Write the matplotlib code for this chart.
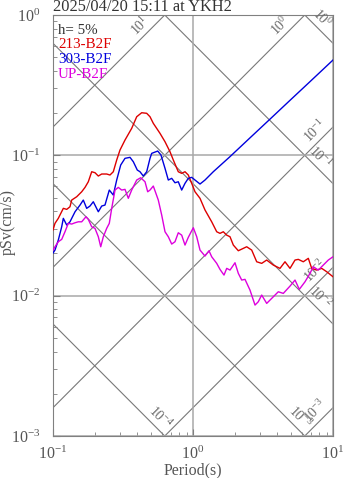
import numpy as np
import matplotlib.pyplot as plt

plt.rcParams['font.family'] = ['Liberation Serif', 'DejaVu Serif']
plt.rcParams['mathtext.fontset'] = 'custom'
plt.rcParams['mathtext.rm'] = 'Liberation Serif'
plt.rcParams['mathtext.it'] = 'Liberation Serif:italic'
plt.rcParams['mathtext.bf'] = 'Liberation Serif:bold'

title = '2025/04/20 15:11 at YKH2'
damping = 'h= 5%'
names = ['213-B2F', '303-B2F', 'UP-B2F']
colors = ['#dd0000', '#0000dd', '#dd00dd']

# period (s) and pSv (cm/s)
per_213 = [0.100, 0.1033, 0.1091, 0.1185, 0.1253, 0.1322, 0.1360, 0.1477, 0.1603, 0.1693,
           0.1787, 0.1890, 0.1995, 0.2107, 0.2228, 0.2418, 0.2553, 0.2696, 0.2851, 0.3010,
           0.3268, 0.3648, 0.3962, 0.4301, 0.4669, 0.4931, 0.5205, 0.5810, 0.6310, 0.6850,
           0.7234, 0.7852, 0.8303, 0.8768, 0.9256, 0.9788, 1.0335, 1.122, 1.218, 1.360,
           1.477, 1.559, 1.646, 1.741, 1.838, 1.941, 2.107, 2.288, 2.418, 2.626,
           2.851, 3.095, 3.360, 3.747, 4.182, 4.541, 4.931, 5.354, 5.651, 6.136,
           6.664, 7.045, 7.648, 8.305, 9.016, 10.0]
sv_213 = [0.0294, 0.03275, 0.03556, 0.0419, 0.0412, 0.0430, 0.0480, 0.0507, 0.0550, 0.0591,
          0.0648, 0.0764, 0.0752, 0.0712, 0.0736, 0.0736, 0.0724, 0.0764, 0.0926, 0.1091,
          0.1285, 0.1557, 0.1884, 0.2012, 0.1993, 0.1884, 0.1691, 0.1435, 0.1250, 0.1061,
          0.0926, 0.0764, 0.0744, 0.0764, 0.0724, 0.0632, 0.0550, 0.0494, 0.0408, 0.0336,
          0.02854, 0.0278, 0.02854, 0.0270, 0.0263, 0.02294, 0.0209, 0.02173, 0.02231, 0.02113,
          0.01744, 0.01699, 0.01794, 0.01652, 0.01565, 0.01744, 0.01565, 0.01794, 0.01814, 0.01744,
          0.01845, 0.01565, 0.01522, 0.01565, 0.01481, 0.01364]

per_303 = [0.100, 0.1033, 0.1091, 0.1154, 0.1185, 0.1253, 0.1322, 0.1437, 0.1559, 0.1646,
           0.1740, 0.1837, 0.1940, 0.2107, 0.2228, 0.2351, 0.2524, 0.2696, 0.2851, 0.3045,
           0.3268, 0.3548, 0.3747, 0.4000, 0.4182, 0.4416, 0.4669, 0.4931, 0.5070, 0.5597,
           0.5907, 0.6310, 0.6662, 0.7045, 0.7436, 0.7852, 0.8303, 0.8768, 0.9256, 0.9788,
           1.0335, 1.122, 1.218, 1.396, 1.838, 2.553, 3.548, 4.931, 6.851, 10.0]
sv_303 = [0.02012, 0.02113, 0.02489, 0.03098, 0.03556, 0.03186, 0.0336, 0.03963, 0.04422, 0.0480,
          0.0419, 0.04351, 0.0467, 0.03963, 0.04351, 0.04422, 0.05657, 0.05212, 0.06668, 0.0853,
          0.09519, 0.09676, 0.09003, 0.07855, 0.0764, 0.0712, 0.0764, 0.09519, 0.1033, 0.1073,
          0.1005, 0.08078, 0.06668, 0.06856, 0.06377, 0.06482, 0.05657, 0.06318, 0.06856, 0.06969,
          0.06668, 0.06245, 0.06668, 0.0764, 0.0979, 0.1332, 0.1811, 0.2466, 0.3351, 0.4777]

per_up = [0.100, 0.1033, 0.1091, 0.1154, 0.1218, 0.1286, 0.1360, 0.1437, 0.1516, 0.1603,
          0.1720, 0.1787, 0.1890, 0.1995, 0.2107, 0.2192, 0.2288, 0.2418, 0.2524, 0.2626,
          0.2773, 0.2927, 0.3095, 0.3268, 0.3451, 0.3648, 0.3962, 0.4230, 0.4542, 0.4747,
          0.4931, 0.5205, 0.5651, 0.5976, 0.6310, 0.6662, 0.7045, 0.7436, 0.7852, 0.8303,
          0.8768, 0.9256, 1.005, 1.063, 1.122, 1.218, 1.301, 1.360, 1.477, 1.559,
          1.665, 1.741, 1.838, 1.909, 1.995, 2.107, 2.228, 2.352, 2.553, 2.773,
          2.927, 3.095, 3.360, 3.747, 4.067, 4.416, 4.931, 5.354, 5.745, 6.310,
          6.851, 7.232, 7.852, 8.524, 9.256, 10.0]
sv_up = [0.02113, 0.02231, 0.02422, 0.02519, 0.02854, 0.03275, 0.03238, 0.03308, 0.0336, 0.0336,
         0.0365, 0.03498, 0.03098, 0.03017, 0.0263, 0.02231, 0.0263, 0.03017, 0.03275, 0.0419,
         0.05657, 0.0591, 0.05657, 0.05722, 0.0494, 0.05657, 0.06668, 0.06923, 0.06482, 0.0550,
         0.05657, 0.06042, 0.0480, 0.03753, 0.02854, 0.0263, 0.02332, 0.02422, 0.02807, 0.0270,
         0.02294, 0.02604, 0.03048, 0.0263, 0.02113, 0.01915, 0.0209, 0.01893, 0.01699, 0.01539,
         0.01402, 0.01565, 0.01522, 0.01607, 0.01716, 0.01442, 0.01292, 0.01307, 0.01096, 0.00857,
         0.00905, 0.0101, 0.00881, 0.00982, 0.01066, 0.01038, 0.0117, 0.01292, 0.01109, 0.01256,
         0.01442, 0.01607, 0.01522, 0.01652, 0.01794, 0.01893]

acc_levels = [1e1, 1e0, 1e-1, 1e-2, 1e-3]       # cm/s^2
acc_labels = ['$10^{1}$', '$10^{0}$', '$10^{-1}$', '$10^{-2}$', '$10^{-3}$']
disp_levels = [1e0, 1e-1, 1e-2, 1e-3, 1e-4]     # cm
disp_labels = ['$10^{0}$', '$10^{-1}$', '$10^{-2}$', '$10^{-3}$', '$10^{-4}$']

t_min, t_max = 0.1, 10.0
v_min, v_max = 1e-3, 1.0

fig = plt.figure(figsize=(3.47, 4.78), dpi=100)
ax = fig.add_axes([53 / 347, 1 - 436 / 478, 280 / 347, 421 / 478])
ax.set_xscale('log')
ax.set_yscale('log')
ax.set_xlim(t_min, t_max)
ax.set_ylim(v_min, v_max)

# tripartite guide lines
tt = np.logspace(-2, 2, 50)
line_col = '#787878'
lab_col = '#6a6a6a'
p = 5.0
for a, lab in zip(acc_levels, acc_labels):
    ax.plot(tt, a * tt / (2 * np.pi), color=line_col, lw=0.8, zorder=1)
    t_end = min(t_max, 2 * np.pi * v_max / a)
    v_end = a * t_end / (2 * np.pi)
    b = 2.0 if t_end >= t_max else 15.0
    ax.annotate(lab, (t_end, v_end), xytext=(-(b + p) / np.sqrt(2), (p - b) / np.sqrt(2)),
                textcoords='offset pixels', rotation=45, rotation_mode='anchor',
                ha='right', va='baseline', fontsize=10, color=lab_col, annotation_clip=False)
for d, lab in zip(disp_levels, disp_labels):
    ax.plot(tt, 2 * np.pi * d / tt, color=line_col, lw=0.8, zorder=1)
    t_end = min(t_max, 2 * np.pi * d / v_min)
    v_end = 2 * np.pi * d / t_end
    b = 15.0 if t_end >= t_max else 3.0
    ax.annotate(lab, (t_end, v_end), xytext=((p - b) / np.sqrt(2), (b + p) / np.sqrt(2)),
                textcoords='offset pixels', rotation=-45, rotation_mode='anchor',
                ha='right', va='baseline', fontsize=10, color=lab_col, annotation_clip=False)

ax.grid(which='major', color='#a8a8a8', lw=1.1, zorder=0)

for per, sv, c in zip([per_213, per_303, per_up], [sv_213, sv_303, sv_up], colors):
    ax.plot(per, sv, color=c, lw=1.0, zorder=3)

# legend block
ax.text(0.018, 0.962, damping, transform=ax.transAxes, fontsize=10.8, color='#333333', va='center')
for i, (n, c) in enumerate(zip(names, colors)):
    ax.text(0.018, 0.929 - 0.035 * i, n, transform=ax.transAxes, fontsize=10.8, color=c, va='center')

for s in ax.spines.values():
    s.set_color('#808080')
ax.tick_params(which='both', direction='in', colors='#808080', labelcolor='#555555', labelsize=11.5)
ax.tick_params(which='major', length=5)
ax.tick_params(which='minor', length=3)
ax.tick_params(axis='y', pad=9)
ax.tick_params(axis='x', pad=7)

fig.text(53 / 347, 1 - 11 / 478, title, fontsize=11.8, color='#333333', va='baseline', ha='left')
fig.text(8 / 347, 1 - 222 / 478, 'pSv(cm/s)', rotation=90, fontsize=11.5, color='#555555',
         ha='center', va='center')
fig.text(193 / 347, 1 - 470 / 478, 'Period(s)', fontsize=11.5, color='#555555',
         ha='center', va='center')

fig.savefig('out.png', dpi=100)
